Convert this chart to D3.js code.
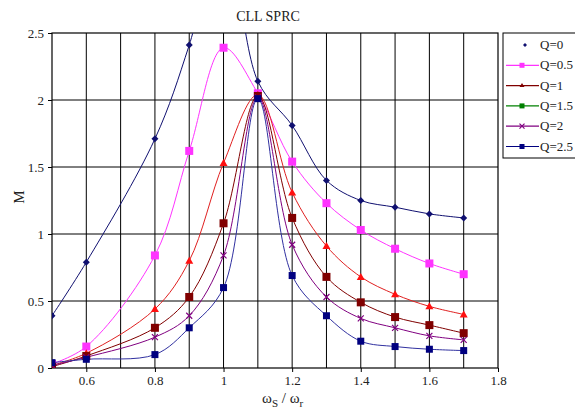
<!DOCTYPE html>
<html>
<head>
<meta charset="utf-8">
<script src="https://cdn.jsdelivr.net/npm/d3@7"></script>
<style>
  body { margin: 0; background: #fff; }
  svg { display: block; font-family: "Liberation Serif", "DejaVu Serif", serif; }
</style>
</head>
<body>
<script>
// frequency ratio ws/wr
var ratios = [0.5, 0.6, 0.8, 0.9, 1.0, 1.1, 1.2, 1.3, 1.4, 1.5, 1.6, 1.7];

// gain M for each Q (Q=0 goes off the top near 1.0)
var q0   = [0.39, 0.79, 1.71, 2.41, 3.3, 2.14, 1.81, 1.40, 1.25, 1.20, 1.15, 1.12];
var q05  = [0.03, 0.16, 0.84, 1.62, 2.39, 2.05, 1.54, 1.23, 1.03, 0.89, 0.78, 0.70];
var q1   = [0.02, 0.11, 0.44, 0.80, 1.53, 2.04, 1.31, 0.91, 0.68, 0.55, 0.46, 0.40];
var q15  = [0.01, 0.09, 0.30, 0.53, 1.08, 2.03, 1.12, 0.68, 0.49, 0.38, 0.32, 0.26];
var q2   = [0.02, 0.08, 0.23, 0.39, 0.84, 2.02, 0.92, 0.53, 0.37, 0.30, 0.24, 0.21];
var q25  = [0.04, 0.065, 0.10, 0.30, 0.60, 2.01, 0.69, 0.39, 0.20, 0.16, 0.14, 0.13];

var xTicks = [0.6, 0.8, 1, 1.2, 1.4, 1.6, 1.8];
var yTicks = [0, 0.5, 1, 1.5, 2, 2.5];

var series = [
    { name: "Q=0",   vals: q0,  color: "#101070", line: "#101070", mark: "diamond" },
    { name: "Q=0.5", vals: q05, color: "#ff33ff", line: "#ff33ff", mark: "square" },
    { name: "Q=1",   vals: q1,  color: "#ff1010", line: "#e02020", mark: "triangle" },
    { name: "Q=1.5", vals: q15, color: "#800000", line: "#800000", mark: "square" },
    { name: "Q=2",   vals: q2,  color: "#800080", line: "#800080", mark: "cross" },
    { name: "Q=2.5", vals: q25, color: "#000080", line: "#3030a0", mark: "square" }
];

// legend as drawn in the original (colours differ from plot)
var legendItems = [
    { name: "Q=0",   color: "#101070", line: false, mark: "diamond" },
    { name: "Q=0.5", color: "#ff33ff", line: true, mark: "square" },
    { name: "Q=1",   color: "#800000", line: true, mark: "triangle" },
    { name: "Q=1.5", color: "#008000", line: true, mark: "square" },
    { name: "Q=2",   color: "#800080", line: true, mark: "cross" },
    { name: "Q=2.5", color: "#000080", line: true, mark: "square" }
];

var W = 575, H = 410;
var pl = 52, pr = 498, pt = 33, pb = 368;

var svg = d3.select("body").append("svg")
    .attr("width", W).attr("height", H);

var x = d3.scaleLinear().domain([0.5, 1.8]).range([pl, pr]);
var y = d3.scaleLinear().domain([0, 2.5]).range([pb, pt]);

// grid
var g = svg.append("g");
g.selectAll(".vg").data(d3.range(6, 18).map(d => d / 10))
    .enter().append("line")
    .attr("x1", d => x(d)).attr("x2", d => x(d))
    .attr("y1", pt).attr("y2", pb)
    .attr("stroke", "#000").attr("stroke-width", 1);
g.selectAll(".hg").data(yTicks.slice(1, -1))
    .enter().append("line")
    .attr("x1", pl).attr("x2", pr)
    .attr("y1", d => y(d)).attr("y2", d => y(d))
    .attr("stroke", "#000").attr("stroke-width", 1);

// axes
var xAxis = svg.append("g")
    .attr("transform", "translate(0," + pb + ")")
    .call(d3.axisBottom(x).tickValues(xTicks).tickSize(4).tickPadding(4)
        .tickFormat(d3.format("~g")));
var yAxis = svg.append("g")
    .attr("transform", "translate(" + pl + ",0)")
    .call(d3.axisLeft(y).tickValues(yTicks).tickSize(4).tickPadding(4)
        .tickFormat(d3.format("~g")));
[xAxis, yAxis].forEach(a => {
    a.selectAll("text").attr("font-size", 13).attr("fill", "#222")
        .attr("font-family", "Liberation Serif, serif");
    a.select(".domain").remove();
});

svg.append("rect")
    .attr("x", pl).attr("y", pt)
    .attr("width", pr - pl).attr("height", pb - pt)
    .attr("fill", "none").attr("stroke", "#000").attr("stroke-width", 1.2);

// clip
svg.append("clipPath").attr("id", "plotclip")
    .append("rect").attr("x", pl).attr("y", pt)
    .attr("width", pr - pl).attr("height", pb - pt);

var line = d3.line()
    .x((d, i) => x(ratios[i]))
    .y(d => y(d))
    .curve(d3.curveCatmullRom.alpha(0.5));

var plot = svg.append("g").attr("clip-path", "url(#plotclip)");

function marker(sel, kind, color, s) {
    if (kind === "square") {
        sel.append("rect").attr("x", -s / 2).attr("y", -s / 2)
            .attr("width", s).attr("height", s).attr("fill", color);
    } else if (kind === "diamond") {
        sel.append("path")
            .attr("d", "M0," + (-s / 2) + "L" + (s / 2) + ",0L0," + (s / 2) + "L" + (-s / 2) + ",0Z")
            .attr("fill", color);
    } else if (kind === "triangle") {
        sel.append("path")
            .attr("d", "M0," + (-s / 2) + "L" + (s / 2) + "," + (s / 2 - 1) + "L" + (-s / 2) + "," + (s / 2 - 1) + "Z")
            .attr("fill", color);
    } else if (kind === "cross") {
        var h = s / 2;
        sel.append("path")
            .attr("d", "M" + (-h) + "," + (-h) + "L" + h + "," + h + "M" + h + "," + (-h) + "L" + (-h) + "," + h)
            .attr("stroke", color).attr("stroke-width", 1.2).attr("fill", "none");
    }
}

var sizes = { "Q=0": 7, "Q=0.5": 8, "Q=1": 8, "Q=1.5": 8, "Q=2": 6, "Q=2.5": 7 };

series.forEach(s => {
    plot.append("path")
        .attr("d", line(s.vals))
        .attr("fill", "none")
        .attr("stroke", s.line)
        .attr("stroke-width", 1);
});
series.forEach(s => {
    s.vals.forEach((v, i) => {
        if (v > 2.5) return;
        var m = plot.append("g")
            .attr("transform", "translate(" + x(ratios[i]) + "," + y(v) + ")");
        marker(m, s.mark, s.color, sizes[s.name]);
    });
});

// title and labels
svg.append("text")
    .attr("x", 268).attr("y", 21)
    .attr("text-anchor", "middle").attr("font-size", 14).attr("fill", "#222")
    .text("CLL SPRC");

svg.append("text")
    .attr("transform", "translate(24,197) rotate(-90)")
    .attr("text-anchor", "middle").attr("font-size", 15).attr("fill", "#222")
    .text("M");

var xl = svg.append("text")
    .attr("x", 262).attr("y", 403)
    .attr("font-size", 15).attr("fill", "#222");
xl.append("tspan").text("ω");
xl.append("tspan").attr("dy", 4).attr("font-size", 11).text("S");
xl.append("tspan").attr("dy", -4).text(" / ω");
xl.append("tspan").attr("dy", 4).attr("font-size", 11).text("r");

// legend
var lg = svg.append("g");
lg.append("rect")
    .attr("x", 503).attr("y", 33).attr("width", 90).attr("height", 125)
    .attr("fill", "#fff").attr("stroke", "#000").attr("stroke-width", 1);
legendItems.forEach((d, i) => {
    var yy = 45 + i * 20.3;
    if (d.line) {
        lg.append("line").attr("x1", 506).attr("x2", 539)
            .attr("y1", yy).attr("y2", yy)
            .attr("stroke", d.color).attr("stroke-width", 1.2);
    }
    var m = lg.append("g").attr("transform", "translate(" + (d.line ? 522 : 525) + "," + yy + ")");
    marker(m, d.mark, d.color, d.line ? 5 : 4);
    lg.append("text")
        .attr("x", 540).attr("y", yy + 4)
        .attr("font-size", 13).attr("fill", "#222")
        .text(d.name);
});
</script>
</body>
</html>
